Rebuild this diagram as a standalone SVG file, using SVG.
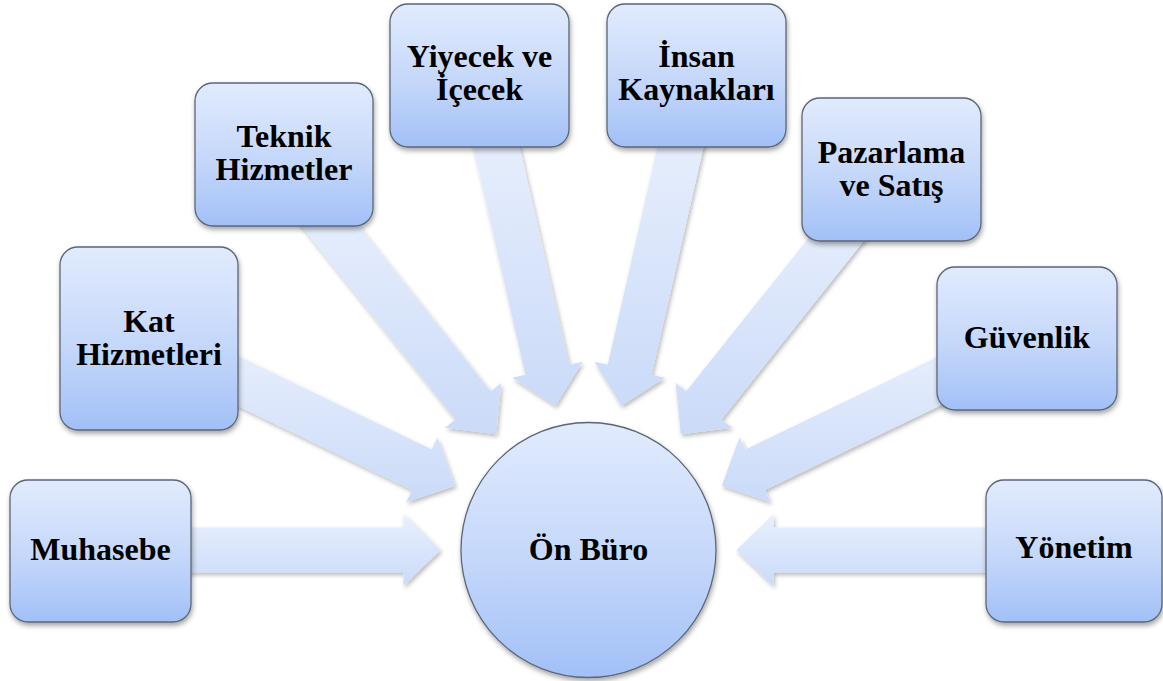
<svg xmlns="http://www.w3.org/2000/svg" width="1163" height="681" viewBox="0 0 1163 681">
  <defs>
    <!-- node fill: light blue fading to a deeper blue at the bottom -->
    <linearGradient id="nodeFill" x1="0" y1="0" x2="0" y2="1">
      <stop offset="0" stop-color="#e1ebfd"/>
      <stop offset="0.55" stop-color="#c4d7fa"/>
      <stop offset="1" stop-color="#a2c0f7"/>
    </linearGradient>
    <!-- block arrow fill -->
    <linearGradient id="arrowFill" x1="0" y1="0" x2="0" y2="1">
      <stop offset="0" stop-color="#e9f0fd"/>
      <stop offset="1" stop-color="#cadaf8"/>
    </linearGradient>
    <filter id="nodeShadow" x="-10%" y="-10%" width="125%" height="130%">
      <feDropShadow dx="1" dy="3" stdDeviation="2.5" flood-color="#000" flood-opacity="0.35"/>
    </filter>
    <filter id="arrowShadow" x="-10%" y="-10%" width="125%" height="125%">
      <feDropShadow dx="1.5" dy="2.5" stdDeviation="2" flood-color="#000" flood-opacity="0.28"/>
    </filter>
  </defs>
  <style>
    .box { fill: url(#nodeFill); stroke: #5b6679; stroke-width: 1.3; filter: url(#nodeShadow); }
    .arrow { fill: url(#arrowFill); stroke: none; filter: url(#arrowShadow); }
    .label { font-family: "Liberation Serif", "Times New Roman", serif; font-weight: bold; font-size: 32px; fill: #000; text-anchor: middle; }
  </style>

  <rect width="1163" height="681" fill="#ffffff"/>

  <!-- radial block arrows pointing at the centre circle (588.5, 550) -->
  <g id="connectors">
    <polygon class="arrow" points="440.5,550 403.5,586 403.5,572.5 148.5,572.5 148.5,527.5 403.5,527.5 403.5,514"/>
    <polygon class="arrow" points="455.16,485.79 437.44,437.30 431.58,449.46 201.83,338.82 182.31,379.36 412.06,490.00 406.20,502.16"/>
    <polygon class="arrow" points="496.22,434.29 501.30,382.91 490.74,391.33 331.75,191.96 296.57,220.02 455.56,419.39 445.00,427.81"/>
    <polygon class="arrow" points="555.57,405.71 582.43,361.63 569.27,364.63 512.53,116.02 468.65,126.04 525.39,374.65 512.23,377.65"/>
    <polygon class="arrow" points="621.43,405.71 594.57,361.63 607.73,364.63 664.47,116.02 708.35,126.04 651.61,374.65 664.77,377.65"/>
    <polygon class="arrow" points="680.78,434.29 675.70,382.91 686.26,391.33 845.25,191.96 880.43,220.02 721.44,419.39 732.00,427.81"/>
    <polygon class="arrow" points="721.84,485.79 739.56,437.30 745.42,449.46 975.17,338.82 994.69,379.36 764.94,490.00 770.80,502.16"/>
    <polygon class="arrow" points="736.5,550 773.5,586 773.5,572.5 1028.5,572.5 1028.5,527.5 773.5,527.5 773.5,514"/>
  </g>

  <g id="node-muhasebe">
    <rect class="box" x="10" y="480" width="181" height="142" rx="18"/>
    <text class="label" x="100.5" y="560">Muhasebe</text>
  </g>
  <g id="node-kat-hizmetleri">
    <rect class="box" x="60" y="247" width="178" height="183" rx="18"/>
    <text class="label" x="149" y="332">Kat</text>
    <text class="label" x="149" y="365">Hizmetleri</text>
  </g>
  <g id="node-teknik-hizmetler">
    <rect class="box" x="195" y="83" width="178" height="143" rx="18"/>
    <text class="label" x="284" y="147">Teknik</text>
    <text class="label" x="284" y="180">Hizmetler</text>
  </g>
  <g id="node-yiyecek-icecek">
    <rect class="box" x="390" y="4" width="179" height="143" rx="18"/>
    <text class="label" x="479.5" y="67">Yiyecek ve</text>
    <text class="label" x="479.5" y="100">İçecek</text>
  </g>
  <g id="node-insan-kaynaklari">
    <rect class="box" x="607" y="4" width="179" height="143" rx="18"/>
    <text class="label" x="696.5" y="67">İnsan</text>
    <text class="label" x="696.5" y="100">Kaynakları</text>
  </g>
  <g id="node-pazarlama-satis">
    <rect class="box" x="802" y="98" width="179" height="143" rx="18"/>
    <text class="label" x="891.5" y="163">Pazarlama</text>
    <text class="label" x="891.5" y="196">ve Satış</text>
  </g>
  <g id="node-guvenlik">
    <rect class="box" x="937" y="267" width="180" height="143" rx="18"/>
    <text class="label" x="1027" y="348">Güvenlik</text>
  </g>
  <g id="node-yonetim">
    <rect class="box" x="986" y="480" width="176" height="142" rx="18"/>
    <text class="label" x="1074" y="558">Yönetim</text>
  </g>
  <g id="node-on-buro">
    <circle class="box" cx="588.5" cy="550" r="127.5"/>
    <text class="label" x="588.5" y="560">Ön Büro</text>
  </g>
</svg>
